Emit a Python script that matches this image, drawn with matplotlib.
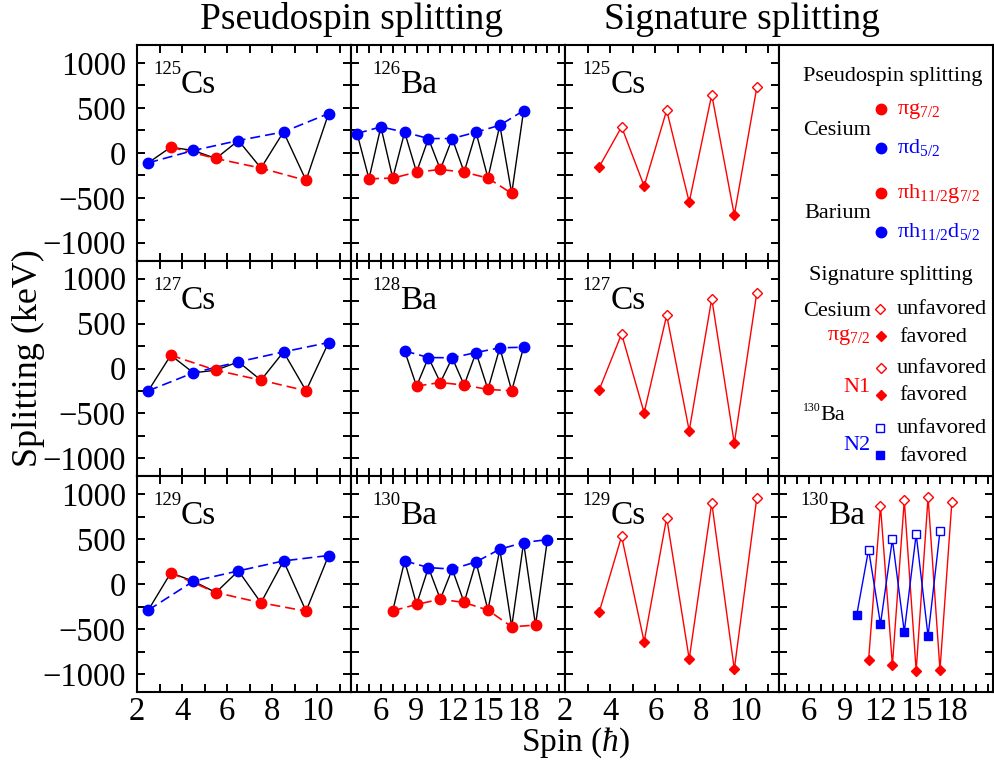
import matplotlib
matplotlib.use('Agg')
import matplotlib.pyplot as plt
from matplotlib.ticker import MultipleLocator, FixedLocator

plt.rcParams['font.family'] = ['Liberation Serif', 'DejaVu Serif']
plt.rcParams['mathtext.fontset'] = 'custom'
plt.rcParams['mathtext.rm'] = 'Liberation Serif'
plt.rcParams['mathtext.it'] = 'Liberation Serif:italic'
plt.rcParams['mathtext.bf'] = 'Liberation Serif:bold'

# ---------------- data ----------------
# Pseudospin splitting, Cesium (pi d5/2 blue, pi g7/2 red)
cs_spin_d = [2.5, 4.5, 6.5, 8.5, 10.5]
cs_spin_g = [3.5, 5.5, 7.5, 9.5]
cs125_d52 = [-111, 26, 137, 233, 437]
cs125_g72 = [63, -63, -170, -307]
cs127_d52 = [-248, -48, 74, 185, 289]
cs127_g72 = [148, -19, -130, -248]
cs129_d52 = [-289, 33, 148, 259, 319]
cs129_g72 = [126, -93, -207, -300]

# Pseudospin splitting, Barium (pi h11/2 d5/2 blue, pi h11/2 g7/2 red)
ba126_spin_d = [4, 6, 8, 10, 12, 14, 16, 18]
ba126_d = [215, 289, 230, 159, 159, 230, 307, 470]
ba126_spin_g = [5, 7, 9, 11, 13, 15, 17]
ba126_g = [-289, -281, -215, -185, -215, -281, -452]

ba128_spin_d = [8, 10, 12, 14, 16, 18]
ba128_d = [196, 122, 119, 178, 230, 237]
ba128_spin_g = [9, 11, 13, 15, 17]
ba128_g = [-196, -156, -185, -233, -248]

ba130_spin_d = [8, 10, 12, 14, 16, 18, 20]
ba130_d = [259, 185, 167, 248, 389, 463, 496]
ba130_spin_g = [7, 9, 11, 13, 15, 17, 19]
ba130_g = [-296, -226, -167, -204, -289, -474, -456]

# Signature splitting (alternating favored / unfavored)
cs_sig_spin = [3.5, 4.5, 5.5, 6.5, 7.5, 8.5, 9.5, 10.5]
cs125_sig = [-159, 289, -370, 474, -548, 648, -693, 730]
cs127_sig = [-241, 385, -493, 593, -693, 778, -833, 844]
cs129_sig = [-315, 533, -641, 741, -833, 907, -948, 963]

ba130_n1_spin = [11, 12, 13, 14, 15, 16, 17, 18]
ba130_n1 = [-844, 871, -900, 933, -963, 970, -956, 915]
ba130_n2_spin = [10, 11, 12, 13, 14, 15, 16, 17]
ba130_n2 = [-344, 385, -444, 500, -530, 556, -578, 589]

cs_xticks = [2, 4, 6, 8, 10]
ba_xticks = [6, 9, 12, 15, 18]
y_ticks = [-1000, -500, 0, 500, 1000]

RED = '#ff0000'
BLUE = '#0000ff'

# ---------------- figure ----------------
W, H = 995, 761
fig = plt.figure(figsize=(W / 100, H / 100), dpi=100)
gs = fig.add_gridspec(3, 4, left=137 / W, right=993.5 / W, top=1 - 45 / H,
                      bottom=1 - 692 / H, wspace=0, hspace=0)


def style(ax, kind, row, col):
    ax.set_ylim(-1200, 1200)
    ax.yaxis.set_major_locator(FixedLocator(y_ticks))
    ax.yaxis.set_minor_locator(MultipleLocator(250))
    if kind == 'cs':
        ax.set_xlim(2, 11.5)
        ax.xaxis.set_major_locator(FixedLocator(cs_xticks))
        ax.xaxis.set_minor_locator(MultipleLocator(1))
    else:
        ax.set_xlim(3.5, 21.5)
        ax.xaxis.set_major_locator(FixedLocator(ba_xticks))
        ax.xaxis.set_minor_locator(MultipleLocator(1))
    ax.tick_params(which='both', direction='in', top=True, right=True,
                   length=5.8, width=1.4, labelsize=23.5)
    ax.tick_params(axis='y', pad=8)
    ax.tick_params(axis='x', pad=3)
    ax.tick_params(labelleft=(col == 0), labelbottom=(row == 2))
    for s in ax.spines.values():
        s.set_linewidth(1.5)


def label(ax, mass, elem, dx):
    ax.annotate(mass, xy=(0, 1), xycoords='axes fraction', xytext=(dx, -29),
                textcoords='offset pixels', fontsize=13.5, ha='left', va='baseline')
    ax.annotate(elem, xy=(0, 1), xycoords='axes fraction', xytext=(dx + 27.5, -48),
                textcoords='offset pixels', fontsize=24, ha='left', va='baseline')


def pseudo(ax, sd, vd, sg, vg):
    pts = sorted(zip(sd + sg, vd + vg))
    ax.plot([p[0] for p in pts], [p[1] for p in pts], color='k', lw=1.0, zorder=2)
    ax.plot(sg, vg, color=RED, lw=1.2, ls=(0, (6, 3)), zorder=2.5)
    ax.plot(sd, vd, color=BLUE, lw=1.2, ls=(0, (6, 3)), zorder=2.5)
    ax.plot(sg, vg, ls='none', marker='o', ms=7.5, color=RED, zorder=3)
    ax.plot(sd, vd, ls='none', marker='o', ms=7.5, color=BLUE, zorder=3)


def signature(ax, s, v, color, marker, ms):
    ax.plot(s, v, color=color, lw=1.0, zorder=2)
    ax.plot(s[0::2], v[0::2], ls='none', marker=marker, ms=ms, color=color,
            mec=color, zorder=3)
    ax.plot(s[1::2], v[1::2], ls='none', marker=marker, ms=ms, mfc='white',
            mec=color, mew=1.0, zorder=3)


cs_sets = [('125', cs125_d52, cs125_g72, cs125_sig),
           ('127', cs127_d52, cs127_g72, cs127_sig),
           ('129', cs129_d52, cs129_g72, cs129_sig)]
ba_sets = [('126', ba126_spin_d, ba126_d, ba126_spin_g, ba126_g),
           ('128', ba128_spin_d, ba128_d, ba128_spin_g, ba128_g),
           ('130', ba130_spin_d, ba130_d, ba130_spin_g, ba130_g)]

for r in range(3):
    m, dvals, gvals, sig = cs_sets[r]
    ax = fig.add_subplot(gs[r, 0])
    style(ax, 'cs', r, 0)
    pseudo(ax, cs_spin_d, dvals, cs_spin_g, gvals)
    label(ax, m, 'Cs', 16.5)

    bm, bsd, bvd, bsg, bvg = ba_sets[r]
    ax = fig.add_subplot(gs[r, 1])
    style(ax, 'ba', r, 1)
    pseudo(ax, bsd, bvd, bsg, bvg)
    label(ax, bm, 'Ba', 21)

    ax = fig.add_subplot(gs[r, 2])
    style(ax, 'cs', r, 2)
    signature(ax, cs_sig_spin, sig, RED, 'D', 4.6)
    label(ax, m, 'Cs', 17.5)

ax = fig.add_subplot(gs[2, 3])
style(ax, 'ba', 2, 3)
signature(ax, ba130_n1_spin, ba130_n1, RED, 'D', 4.6)
signature(ax, ba130_n2_spin, ba130_n2, BLUE, 's', 5.3)
label(ax, '130', 'Ba', 21.5)

# ---------------- legend panel ----------------
lax = fig.add_subplot(gs[0:2, 3])
lax.set_xticks([])
lax.set_yticks([])
for s in lax.spines.values():
    s.set_linewidth(1.5)


def P(x, y):
    return x / W, 1 - y / H


def ftext(x, y, s, size=16, color='k', ha='left'):
    fig.text(*P(x, y), s, fontsize=size, color=color, ha=ha, va='baseline')


def fmark(x, y, marker, color, ms, filled=True):
    fx, fy = P(x, y)
    lax.plot([fx], [fy], transform=fig.transFigure, ls='none', marker=marker,
             ms=ms, color=color, mec=color, mfc=color if filled else 'white',
             mew=1.0, clip_on=False)


ftext(893, 81, 'Pseudospin splitting', ha='center')
fmark(881, 109, 'o', RED, 7.5)
ftext(897, 114, 'πg$_{7/2}$', color=RED)
ftext(871, 135, 'Cesium', ha='right')
fmark(881, 147.5, 'o', BLUE, 7.5)
ftext(897, 152.5, 'πd$_{5/2}$', color=BLUE)
fmark(881, 193, 'o', RED, 7.5)
ftext(897, 198, 'πh$_{11/2}$g$_{7/2}$', color=RED)
ftext(871, 218.5, 'Barium', ha='right')
fmark(881, 232, 'o', BLUE, 7.5)
ftext(897, 237, 'πh$_{11/2}$d$_{5/2}$', color=BLUE)

ftext(890.5, 280, 'Signature splitting', ha='center')
ftext(871, 316, 'Cesium', ha='right')
fmark(880.5, 308.5, 'D', RED, 4.6, filled=False)
ftext(897, 314, 'unfavored')
ftext(871, 340, 'πg$_{7/2}$', color=RED, ha='right')
fmark(881, 336, 'D', RED, 4.6)
ftext(899, 342, 'favored')
fmark(881, 367.5, 'D', RED, 4.6, filled=False)
ftext(897, 373, 'unfavored')
ftext(871, 392, 'N1', color=RED, ha='right')
fmark(881, 394.5, 'D', RED, 4.6)
ftext(899, 400, 'favored')
ftext(802.5, 411.5, '130', size=8.5)
ftext(820.5, 420, 'Ba')
fmark(880, 428, 's', BLUE, 5.3, filled=False)
ftext(897, 433, 'unfavored')
ftext(871, 450, 'N2', color=BLUE, ha='right')
fmark(880, 455, 's', BLUE, 5.3)
ftext(899, 461, 'favored')

# ---------------- titles / axis labels ----------------
fig.text(*P(352, 29), 'Pseudospin splitting', fontsize=27, ha='center', va='baseline')
fig.text(*P(742, 29), 'Signature splitting', fontsize=27, ha='center', va='baseline')
fig.text(*P(575, 750.5), r'Spin ($\hbar$)', fontsize=24, ha='center', va='baseline')
fig.text(*P(28, 358), 'Splitting (keV)', fontsize=26, ha='center', va='center',
         rotation=90)

fig.savefig('out.png', dpi=100)
